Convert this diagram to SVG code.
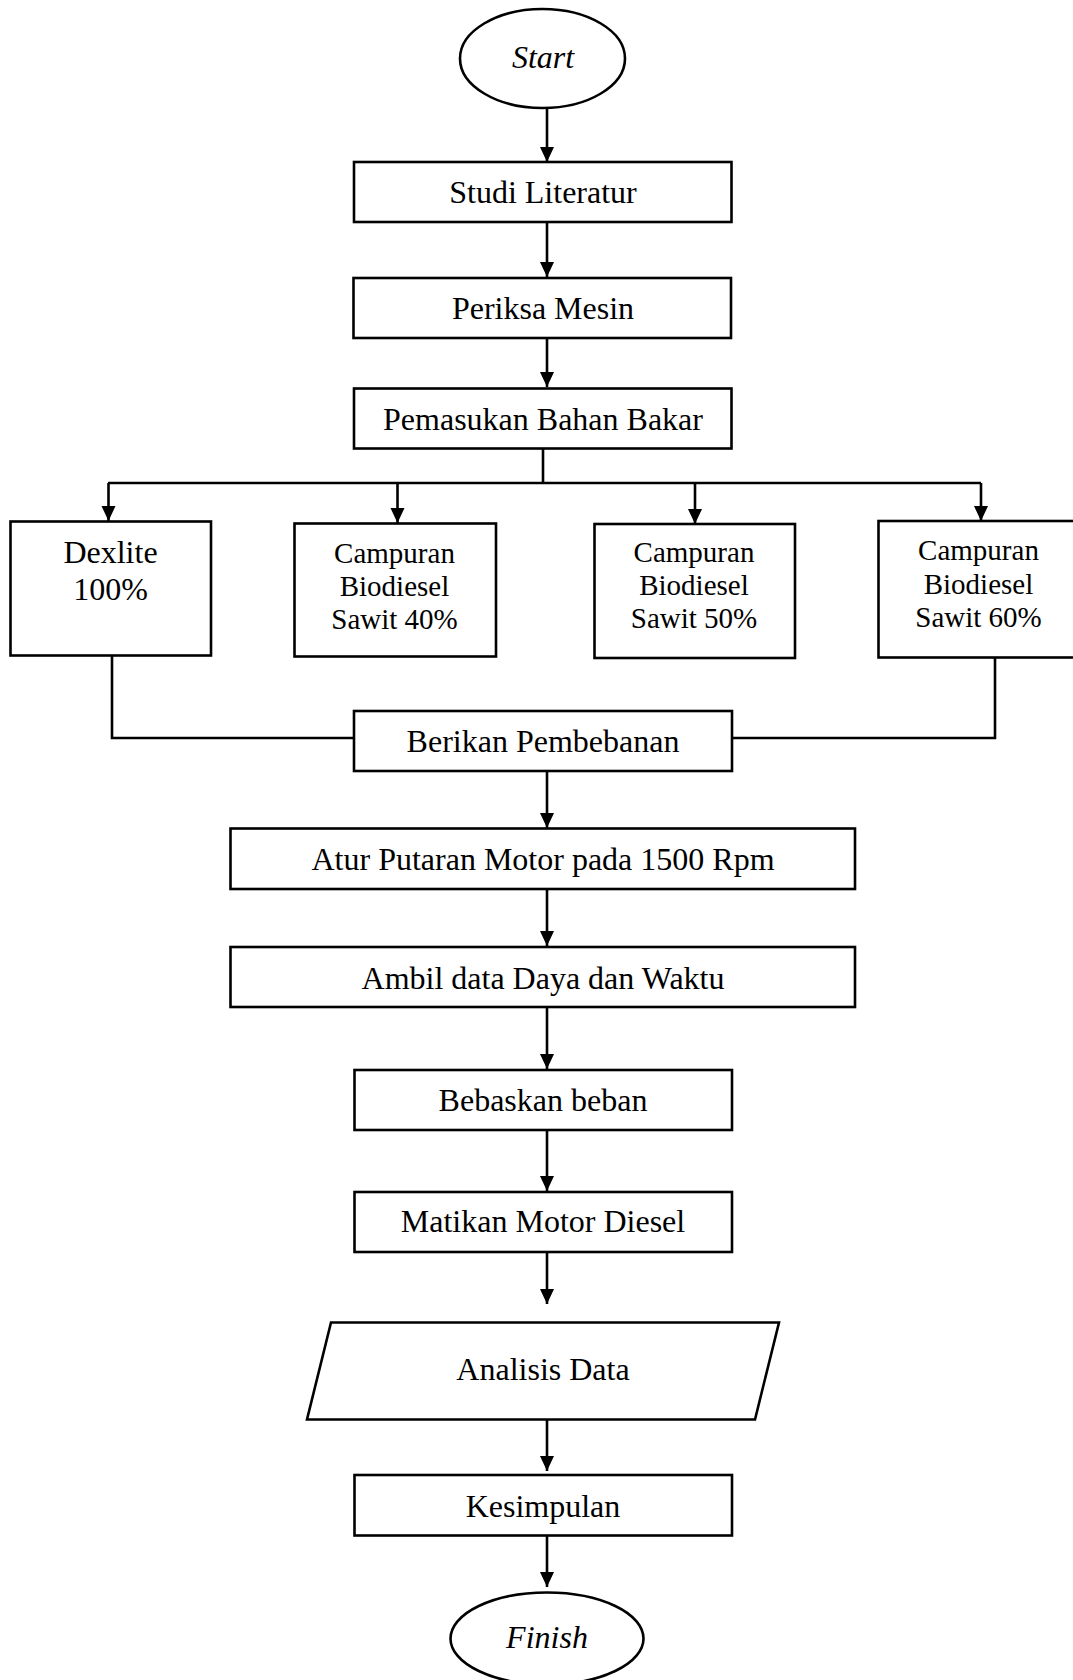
<svg xmlns="http://www.w3.org/2000/svg" width="1073" height="1680" viewBox="0 0 1073 1680">
<style>
.box{fill:#fff;stroke:#000;stroke-width:2.6}
.ln{fill:none;stroke:#000;stroke-width:2.6}
.t{font-family:"Liberation Serif","Times New Roman",serif;font-size:32px;fill:#000;text-anchor:middle}
.s{font-size:29px}
.i{font-style:italic}
</style>
<defs>
<marker id="ah" markerUnits="userSpaceOnUse" markerWidth="16" markerHeight="15" refX="15" refY="7" orient="auto">
<path d="M0,0 L15,7 L0,14 z" fill="#000"/>
</marker>
</defs>
<rect width="1073" height="1680" fill="#fff"/>
<g id="connectors">
<line class="ln" x1="547" y1="108" x2="547" y2="162" marker-end="url(#ah)"/>
<line class="ln" x1="547" y1="222" x2="547" y2="277" marker-end="url(#ah)"/>
<line class="ln" x1="547" y1="338" x2="547" y2="387" marker-end="url(#ah)"/>
<polyline class="ln" points="543,449 543,483"/>
<line class="ln" x1="108" y1="483" x2="981" y2="483"/>
<line class="ln" x1="108.5" y1="483" x2="108.5" y2="521" marker-end="url(#ah)"/>
<line class="ln" x1="397.5" y1="483" x2="397.5" y2="523" marker-end="url(#ah)"/>
<line class="ln" x1="695" y1="483" x2="695" y2="524" marker-end="url(#ah)"/>
<line class="ln" x1="981" y1="483" x2="981" y2="521" marker-end="url(#ah)"/>
<polyline class="ln" points="112,656 112,738 354,738"/>
<polyline class="ln" points="995,658 995,738 732,738"/>
<line class="ln" x1="547" y1="771" x2="547" y2="828" marker-end="url(#ah)"/>
<line class="ln" x1="547" y1="889" x2="547" y2="946" marker-end="url(#ah)"/>
<line class="ln" x1="547" y1="1007" x2="547" y2="1069" marker-end="url(#ah)"/>
<line class="ln" x1="547" y1="1130" x2="547" y2="1191" marker-end="url(#ah)"/>
<line class="ln" x1="547" y1="1252" x2="547" y2="1304" marker-end="url(#ah)"/>
<line class="ln" x1="547" y1="1419" x2="547" y2="1471" marker-end="url(#ah)"/>
<line class="ln" x1="547" y1="1536" x2="547" y2="1587" marker-end="url(#ah)"/>
</g>
<g id="start">
<ellipse class="box" cx="542.5" cy="58.5" rx="82.5" ry="49.5"/>
<text class="t i" x="543" y="68">Start</text>
</g>
<g id="studi">
<rect class="box" x="354" y="162" width="377.5" height="60"/>
<text class="t" x="543" y="203">Studi Literatur</text>
</g>
<g id="periksa">
<rect class="box" x="353.5" y="278" width="377.5" height="60"/>
<text class="t" x="543" y="319">Periksa Mesin</text>
</g>
<g id="pemasukan">
<rect class="box" x="354" y="388.5" width="377.5" height="60"/>
<text class="t" x="543" y="430">Pemasukan Bahan Bakar</text>
</g>
<g id="dexlite">
<rect class="box" x="10.5" y="521.5" width="200.5" height="134"/>
<text class="t" x="110.5" y="563">Dexlite</text>
<text class="t" x="110.5" y="600">100%</text>
</g>
<g id="campuran40">
<rect class="box" x="294.5" y="523.5" width="201.5" height="133"/>
<text class="t s" x="394.5" y="562.5">Campuran</text>
<text class="t s" x="394.5" y="596">Biodiesel</text>
<text class="t s" x="394.5" y="629">Sawit 40%</text>
</g>
<g id="campuran50">
<rect class="box" x="594.5" y="524" width="200.5" height="134"/>
<text class="t s" x="694" y="561.5">Campuran</text>
<text class="t s" x="694" y="595">Biodiesel</text>
<text class="t s" x="694" y="628">Sawit 50%</text>
</g>
<g id="campuran60">
<rect class="box" x="878.5" y="521" width="200" height="136.5"/>
<text class="t s" x="978.5" y="560">Campuran</text>
<text class="t s" x="978.5" y="593.5">Biodiesel</text>
<text class="t s" x="978.5" y="626.5">Sawit 60%</text>
</g>
<g id="berikan">
<rect class="box" x="354" y="711" width="378" height="60"/>
<text class="t" x="543" y="752">Berikan Pembebanan</text>
</g>
<g id="atur">
<rect class="box" x="230.5" y="828.5" width="624.5" height="60.5"/>
<text class="t" x="543" y="870">Atur Putaran Motor pada 1500 Rpm</text>
</g>
<g id="ambil">
<rect class="box" x="230.5" y="947" width="624.5" height="60"/>
<text class="t" x="543" y="988.5">Ambil data Daya dan Waktu</text>
</g>
<g id="bebaskan">
<rect class="box" x="354.5" y="1070" width="377.5" height="60"/>
<text class="t" x="543" y="1110.5">Bebaskan beban</text>
</g>
<g id="matikan">
<rect class="box" x="354.5" y="1192" width="377.5" height="60"/>
<text class="t" x="543" y="1232">Matikan Motor Diesel</text>
</g>
<g id="analisis">
<polygon class="box" points="331,1322.5 779,1322.5 755,1419.5 307,1419.5"/>
<text class="t" x="543" y="1380">Analisis Data</text>
</g>
<g id="kesimpulan">
<rect class="box" x="354.5" y="1475" width="377.5" height="60.5"/>
<text class="t" x="543" y="1517">Kesimpulan</text>
</g>
<g id="finish">
<ellipse class="box" cx="547" cy="1638.5" rx="96.5" ry="46"/>
<text class="t i" x="547" y="1647.5">Finish</text>
</g>
</svg>
